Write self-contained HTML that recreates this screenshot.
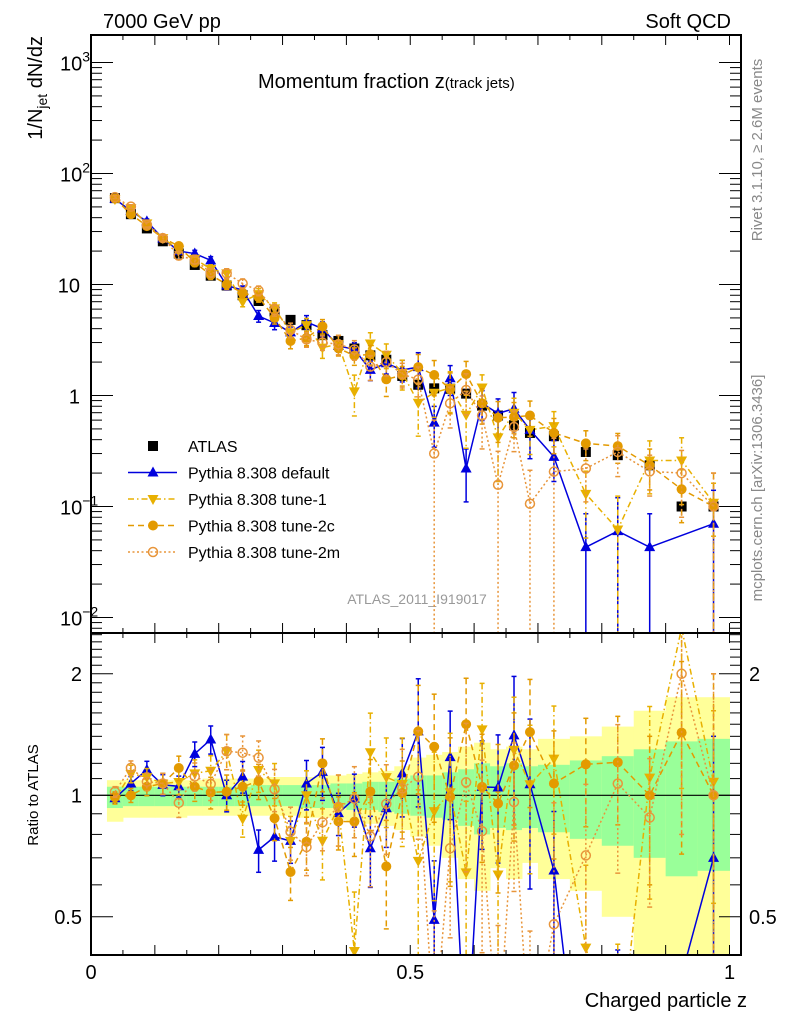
<!DOCTYPE html>
<html><head><meta charset="utf-8">
<style>
html,body{margin:0;padding:0;background:#fff;width:786px;height:1024px;overflow:hidden;}
svg{display:block;font-family:"Liberation Sans",Arial,sans-serif;overflow:hidden;}
</style></head>
<body>
<svg id="chart" width="786" height="1024" viewBox="0 0 786 1024" xmlns="http://www.w3.org/2000/svg">
<defs>
<clipPath id="clipMain"><rect x="91" y="35" width="650" height="598"/></clipPath>
<clipPath id="clipRatio"><rect x="91" y="633" width="650" height="322"/></clipPath>
</defs>
<text x="103" y="28" font-size="20">7000 GeV pp</text>
<text x="731" y="28" font-size="20" text-anchor="end">Soft QCD</text>
<text x="258" y="88" font-size="20">Momentum fraction z<tspan font-size="15">(track jets)</tspan></text>
<text x="417" y="604" font-size="14" fill="#999" text-anchor="middle">ATLAS_2011_I919017</text>
<text transform="translate(762,150) rotate(-90)" font-size="15" fill="#888" text-anchor="middle">Rivet 3.1.10, ≥ 2.6M events</text>
<text transform="translate(762,488) rotate(-90)" font-size="15" fill="#888" text-anchor="middle">mcplots.cern.ch [arXiv:1306.3436]</text>
<text transform="translate(42,36) rotate(-90)" font-size="20" text-anchor="end">1/N<tspan font-size="14" dy="5">jet</tspan><tspan dy="-5"> dN/dz</tspan></text>
<text transform="translate(38,795) rotate(-90)" font-size="15" text-anchor="middle">Ratio to ATLAS</text>
<text x="747" y="1007" font-size="20" text-anchor="end">Charged particle z</text>
<g id="layer"></g>
</svg>
<script>
const centers=[0.0375,0.0625,0.0875,0.1125,0.1375,0.1625,0.1875,0.2125,0.2375,0.2625,0.2875,0.3125,0.3375,0.3625,0.3875,0.4125,0.4375,0.4625,0.4875,0.5125,0.5375,0.5625,0.5875,0.6125,0.6375,0.6625,0.6875,0.725,0.775,0.825,0.875,0.925,0.975];
const widths=[0.025,0.025,0.025,0.025,0.025,0.025,0.025,0.025,0.025,0.025,0.025,0.025,0.025,0.025,0.025,0.025,0.025,0.025,0.025,0.025,0.025,0.025,0.025,0.025,0.025,0.025,0.025,0.05,0.05,0.05,0.05,0.05,0.05];
const atlas=[60,43,32,24.5,19,15,12,9.8,8,7.1,5.7,4.8,4.3,3.5,3.1,2.65,2.3,2.1,1.5,1.25,1.16,1.15,1.04,0.81,0.66,0.54,0.46,0.43,0.31,0.29,0.235,0.10,0.10];
const pyDefault=[59,46,37,26,20,19,16.5,9.8,8.9,5.2,4.5,3.7,4.6,4.0,2.8,2.6,1.7,1.95,1.7,1.8,0.57,1.43,0.22,0.85,0.69,0.76,0.49,0.28,0.043,0.06,0.043,null,0.07];
const pyTune1=[58.8,48.6,35.5,26.2,20.5,17,13.8,12.6,7.0,8.2,6.1,3.7,4.3,2.7,2.9,1.09,2.94,2.33,1.6,0.86,1.06,1.17,0.67,1.18,0.42,0.70,0.49,0.53,0.13,0.062,0.26,0.26,0.108];
const pyTune2c=[59.4,43,33.6,26.2,22.2,15.75,12.2,10,8.4,7.7,5.0,3.1,3.3,4.2,2.67,2.28,2.35,1.4,1.52,1.8,1.53,1.14,1.56,0.85,0.63,0.64,0.66,0.46,0.37,0.35,0.235,0.143,0.10];
const pyTune2m=[61.2,50.3,34.6,26.2,18.2,16.7,12.8,12.6,10.2,8.8,5.9,3.9,3.2,3.0,2.9,2.6,1.82,2.0,1.56,1.39,0.30,0.85,1.12,0.66,0.157,0.52,0.106,0.206,0.22,0.31,0.207,0.20,0.10];
const errDefault=[0.03,0.04,0.05,0.06,0.06,0.07,0.08,0.09,0.09,0.12,0.13,0.12,0.14,0.15,0.12,0.15,0.2,0.2,0.22,0.35,0.4,0.3,0.5,0.3,0.35,0.4,0.45,0.4,1,1,1,1,1];
const errTune1=[0.03,0.05,0.05,0.06,0.07,0.08,0.09,0.1,0.1,0.12,0.12,0.15,0.15,0.2,0.2,0.4,0.25,0.25,0.3,0.5,0.4,0.4,0.5,0.3,0.6,0.35,0.4,0.35,0.6,1,0.5,0.6,0.5];
const errTune2c=[0.03,0.04,0.05,0.06,0.07,0.08,0.09,0.1,0.1,0.1,0.12,0.15,0.15,0.15,0.15,0.18,0.2,0.3,0.2,0.3,0.35,0.4,0.3,0.35,0.4,0.35,0.35,0.35,0.3,0.3,0.4,0.5,1];
const errTune2m=[0.03,0.04,0.05,0.06,0.08,0.08,0.09,0.1,0.1,0.1,0.12,0.15,0.15,0.15,0.2,0.2,0.25,0.25,0.25,0.3,1,0.4,0.4,0.5,1,0.4,1,1,0.5,0.4,0.4,0.6,1];
const greenUp=[1.05,1.05,1.05,1.05,1.05,1.05,1.05,1.05,1.05,1.06,1.06,1.06,1.06,1.06,1.07,1.07,1.08,1.08,1.10,1.12,1.12,1.14,1.16,1.20,1.18,1.20,1.18,1.19,1.22,1.25,1.30,1.36,1.38];
const greenDn=[0.93,0.94,0.94,0.94,0.94,0.94,0.94,0.94,0.94,0.94,0.94,0.94,0.93,0.93,0.93,0.92,0.92,0.91,0.90,0.89,0.88,0.87,0.84,0.80,0.83,0.82,0.83,0.81,0.78,0.75,0.70,0.63,0.65];
const yellowUp=[1.09,1.09,1.09,1.09,1.09,1.09,1.10,1.10,1.10,1.10,1.11,1.11,1.11,1.12,1.12,1.13,1.14,1.15,1.18,1.24,1.26,1.28,1.32,1.35,1.30,1.32,1.30,1.38,1.40,1.48,1.62,1.75,1.75];
const yellowDn=[0.86,0.88,0.88,0.88,0.88,0.89,0.89,0.89,0.89,0.89,0.89,0.89,0.88,0.88,0.87,0.86,0.85,0.84,0.82,0.79,0.75,0.70,0.62,0.58,0.66,0.62,0.68,0.62,0.58,0.50,0.40,0.30,0.30];
const xTickLabels=["0","0.5","1"];
const mainTickLabels=[["10","3",3],["10","2",2],["10","",1],["1","",0],["10","−1",-1],["10","−2",-2]];
const ratioTickLabels=["2","1","0.5"];

const NS="http://www.w3.org/2000/svg";
const L=91,R=741,MT=35,MB=633,RB=955;
function X(z){return L+z*638.5;}
function YM(v){return 395.5-111*Math.log10(v);}
function YR(r){return 795.3-121.5*Math.log2(r);}
const layer=document.getElementById('layer');
function mk(tag,attrs,parent){const e=document.createElementNS(NS,tag);for(const k in attrs)e.setAttribute(k,attrs[k]);(parent||layer).appendChild(e);return e;}

const gBand=mk('g',{'clip-path':'url(#clipRatio)'});


for(let i=0;i<centers.length;i++){
  const x0=X(centers[i]-widths[i]/2),x1=X(centers[i]+widths[i]/2);
  const y=mk('rect',{x:x0,y:YR(yellowUp[i]),width:x1-x0+0.5,height:YR(yellowDn[i])-YR(yellowUp[i]),fill:'#ffff99'},gBand);
  
  
  const g=mk('rect',{x:x0,y:YR(greenUp[i]),width:x1-x0+0.5,height:YR(greenDn[i])-YR(greenUp[i]),fill:'#99ff99'},gBand);
  
  
}
const one=mk('line',{x1:L,x2:R,y1:YR(1),y2:YR(1),stroke:'#000','stroke-width':1.2});



function marker(kind,x,y,color,parent){
  let e;
  if(kind==='square')e=mk('rect',{x:x-5,y:y-5,width:10,height:10,fill:color},parent);
  else if(kind==='up')e=mk('polygon',{points:`${x},${y-6} ${x-5.5},${y+4} ${x+5.5},${y+4}`,fill:color},parent);
  else if(kind==='down')e=mk('polygon',{points:`${x},${y+6} ${x-5.5},${y-4} ${x+5.5},${y-4}`,fill:color},parent);
  else if(kind==='circle')e=mk('circle',{cx:x,cy:y,r:5,fill:color},parent);
  else e=mk('circle',{cx:x,cy:y,r:4.5,fill:'#fff','fill-opacity':0,stroke:color,'stroke-width':1.5},parent);
  return e;
}

function drawSeries(name,vals,errs,color,kind,dash,ratioMode){
  const g=mk('g',{'clip-path':ratioMode?'url(#clipRatio)':'url(#clipMain)'});
  
  
  const Y=ratioMode?YR:YM;
  const pts=[];
  for(let i=0;i<centers.length;i++){
    if(vals[i]==null)continue;
    const v=ratioMode?vals[i]/atlas[i]:vals[i];
    const x=X(centers[i]),y=Y(v);
    pts.push([x,y]);
    if(errs){
      const hi=v*(1+errs[i]),lo=v*(1-errs[i]);
      const yHi=Y(hi),yLo=lo>0?Y(lo):RB+5;
      const eb=mk('line',{x1:x,x2:x,y1:yHi,y2:yLo,stroke:color,'stroke-width':1.5,'stroke-dasharray':dash||'none'},g);
      
      
      mk('line',{x1:x-2.5,x2:x+2.5,y1:yHi,y2:yHi,stroke:color,'stroke-width':1.5},g);
      if(lo>0)mk('line',{x1:x-2.5,x2:x+2.5,y1:yLo,y2:yLo,stroke:color,'stroke-width':1.5},g);
    }
  }
  if(kind!=='square'){
    const pl=mk('polyline',{points:pts.map(p=>p.join(',')).join(' '),fill:'none',stroke:color,'stroke-width':1.5,'stroke-dasharray':dash||'none'},g);
    
    
  }
  for(const p of pts){
    const m=marker(kind,p[0],p[1],color,g);
    
    
  }
}
const series=[
 ['pythia-default',pyDefault,errDefault,'#0000dd','up',null],
 ['pythia-tune-1',pyTune1,errTune1,'#e8b000','down','6,3,1.5,3'],
 ['pythia-tune-2c',pyTune2c,errTune2c,'#e39a00','circle','6,4'],
 ['pythia-tune-2m',pyTune2m,errTune2m,'#e8953a','open','2,2.5']
];
drawSeries('atlas-data',atlas,null,'#000','square',null,false);
for(const s of series){drawSeries(s[0],s[1],s[2],s[3],s[4],s[5],false);}
for(const s of series){drawSeries(s[0],s[1],s[2],s[3],s[4],s[5],true);}

for(const [y0,y1,nm] of [[MT,MB,'main-frame'],[MB,RB,'ratio-frame']]){
  const f=mk('rect',{x:L,y:y0,width:R-L,height:y1-y0,fill:'none',stroke:'#000','stroke-width':2});
  
  
}
for(let k=0;k<=20;k++){
  const z=k*0.05,x=X(z),len=(k%2===0)?10:5;
  for(const [yb,dir] of [[MB,-1],[MT,1],[RB,-1],[MB,1]]){
    mk('line',{x1:x,x2:x,y1:yb,y2:yb+dir*len,stroke:'#000','stroke-width':1});
  }
}
xTickLabels.forEach((t,i)=>{
  const e=mk('text',{x:X(i*0.5),y:979,'font-size':20,'text-anchor':'middle'});
  e.textContent=t;
  
  
});
for(let d=-3;d<=3;d++){
  for(let m=1;m<=9;m++){
    const v=m*Math.pow(10,d),y=YM(v);
    if(y<MT||y>MB)continue;
    const len=m===1?22:11;
    mk('line',{x1:L,x2:L+len,y1:y,y2:y,stroke:'#000','stroke-width':1});
    mk('line',{x1:R,x2:R-len,y1:y,y2:y,stroke:'#000','stroke-width':1});
  }
}
mainTickLabels.forEach(t=>{
  const e=mk('text',{x:t[1]?70:80,y:YM(Math.pow(10,t[2]))+8,'font-size':20,'text-anchor':'end'});
  e.textContent=t[0];
  if(t[1]){const s=mk('tspan',{'font-size':14,dy:-9},e);s.textContent=t[1];}
  if(t[1]){e.setAttribute('x',60);e.setAttribute('text-anchor','start');}
  
  
});
for(let r=0.4;r<=2.55;r+=0.1){
  const y=YR(r);if(y<MB||y>RB)continue;
  const major=Math.abs(r-0.5)<1e-6||Math.abs(r-1)<1e-6||Math.abs(r-2)<1e-6;
  const len=major?22:11;
  mk('line',{x1:L,x2:L+len,y1:y,y2:y,stroke:'#000','stroke-width':1});
  mk('line',{x1:R,x2:R-len,y1:y,y2:y,stroke:'#000','stroke-width':1});
}
ratioTickLabels.forEach(t=>{
  const y=YR(parseFloat(t))+7;
  const e=mk('text',{x:82,y:y,'font-size':20,'text-anchor':'end'});
  e.textContent=t;
  
  
  if(t!=='1'){
    const e2=mk('text',{x:749,y:y,'font-size':20});
    e2.textContent=t;
    
    
  }
});
const leg=mk('g',{});


const legItems=[['ATLAS','#000','square',null,false],['Pythia 8.308 default','#0000dd','up',null,true],['Pythia 8.308 tune-1','#e8b000','down','6,3,1.5,3',true],['Pythia 8.308 tune-2c','#e39a00','circle','6,4',true],['Pythia 8.308 tune-2m','#e8953a','open','2,2.5',true]];
legItems.forEach((it,i)=>{
  const y=446+i*26.5;
  const g=mk('g',{},leg);
  
  
  if(it[4])mk('line',{x1:128,x2:177,y1:y,y2:y,stroke:it[1],'stroke-width':1.5,'stroke-dasharray':it[3]||'none'},g);
  marker(it[2],153,y,it[1],g);
  const t=mk('text',{x:188,y:y+6,'font-size':16},g);
  t.textContent=it[0];
});
</script>
</body></html>
